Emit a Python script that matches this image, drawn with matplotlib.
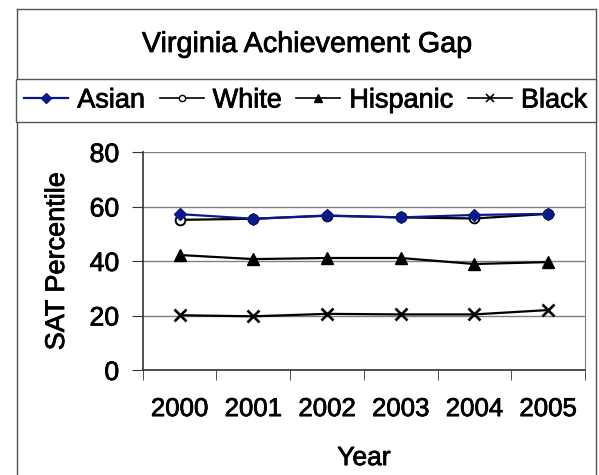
import matplotlib
matplotlib.use("Agg")
import matplotlib.pyplot as plt
from matplotlib.lines import Line2D
import matplotlib.patheffects as pe

years = ["2000", "2001", "2002", "2003", "2004", "2005"]
asian = [57.2, 55.5, 56.7, 56.0, 56.9, 57.3]
white = [55.1, 55.5, 56.6, 56.0, 55.6, 57.3]
hispanic = [42.2, 40.7, 41.1, 41.1, 38.9, 39.6]
black = [20.1, 19.7, 20.6, 20.4, 20.4, 22.0]
series_names = ["Asian", "White", "Hispanic", "Black"]
yticks = [0, 20, 40, 60, 80]

plt.rcParams['font.family'] = ['Liberation Sans', 'DejaVu Sans']
thick = [pe.withStroke(linewidth=0.55, foreground="black")]

W, H = 599, 475
fig = plt.figure(figsize=(W / 100, H / 100), dpi=100)

def fx(px):
    return px / W

def fy(py):
    return 1 - py / H

border_col = "#555555"
# outer chart border (left, top, right)
fig.add_artist(Line2D([fx(17), fx(17)], [0, fy(9)], color=border_col, lw=1, transform=fig.transFigure))
fig.add_artist(Line2D([fx(17), fx(596)], [fy(9), fy(9)], color=border_col, lw=1, transform=fig.transFigure))
fig.add_artist(Line2D([fx(596), fx(596)], [0, fy(9)], color=border_col, lw=1, transform=fig.transFigure))

fig.text(fx(307), fy(44), "Virginia Achievement Gap", ha="center", va="center",
         fontsize=20.7, path_effects=thick)

ax = fig.add_axes([fx(142.7), fy(370), fx(585) - fx(142.7), fy(152) - fy(370)])
x = list(range(len(years)))

navy = "#0a1a8c"
ax.plot(x, white, color="black", lw=1.6, marker="o", markersize=7,
        markerfacecolor="white", markeredgecolor="black", markeredgewidth=1.4, zorder=3)
ax.plot(x, hispanic, color="black", lw=1.6, marker="^", markersize=8.5,
        markerfacecolor="black", zorder=3)
ax.plot(x, black, color="black", lw=1.6, marker="x", markersize=8,
        markeredgewidth=1.9, zorder=3)
ax.plot(x, asian, color=navy, lw=1.6, marker="D", markersize=6.5,
        markerfacecolor=navy, markeredgecolor=navy, zorder=4)

ax.set_xlim(-0.5, len(years) - 0.5)
ax.set_ylim(0, 80)
ax.set_yticks(yticks)
ax.set_yticklabels([str(v) for v in yticks], fontsize=19.2)
ax.set_xticks(x)
ax.set_xticklabels(years, fontsize=18.6)
ax.set_xticks([i - 0.5 for i in range(len(years) + 1)], minor=True)
ax.tick_params(axis="x", which="major", length=0, pad=19.5)
ax.tick_params(axis="x", which="minor", length=7, direction="out", color="#333333")
ax.tick_params(axis="y", which="major", length=8, direction="out", color="#333333", pad=9)
for t in ax.get_xticklabels() + ax.get_yticklabels():
    t.set_path_effects(thick)

ax.grid(axis="y", color="#808080", lw=1)
ax.set_axisbelow(True)
for s in ["left", "bottom"]:
    ax.spines[s].set_color("#333333")
    ax.spines[s].set_linewidth(1.2)
ax.spines["right"].set_color("#808080")
ax.spines["top"].set_visible(False)

ax.set_ylabel("SAT Percentile", fontsize=19.5, labelpad=14, path_effects=thick)
ax.set_xlabel("Year", fontsize=19, labelpad=18, path_effects=thick)

handles = [
    Line2D([], [], color=navy, lw=1.6, marker="D", markersize=5, markerfacecolor=navy, markeredgecolor=navy),
    Line2D([], [], color="black", lw=1.2, marker="o", markersize=4.5, markerfacecolor="white", markeredgecolor="black"),
    Line2D([], [], color="black", lw=1.2, marker="^", markersize=5.5, markerfacecolor="black"),
    Line2D([], [], color="black", lw=1.2, marker="x", markersize=5.5, markeredgewidth=1.2),
]
leg = fig.legend(handles, series_names, loc="center",
                 bbox_to_anchor=(fx(15.5), fy(121), fx(596) - fx(15.5), fy(80) - fy(121)),
                 ncol=4, fontsize=19.5, frameon=True, fancybox=False,
                 handlelength=1.63, handletextpad=0.33, columnspacing=0.48,
                 borderpad=0.32, borderaxespad=0, mode="expand")
for t in leg.get_texts():
    t.set_path_effects(thick)
fr = leg.get_frame()
fr.set_edgecolor(border_col)
fr.set_linewidth(1)
fr.set_alpha(1)

fig.savefig("out.png", dpi=100)
